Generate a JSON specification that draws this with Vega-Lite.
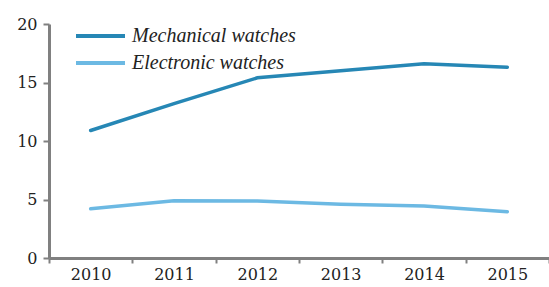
{
  "$schema": "https://vega.github.io/schema/vega-lite/v6.json",
  "width": 500,
  "height": 234,
  "autosize": "none",
  "padding": {"left": 49, "top": 24, "right": 0, "bottom": 29},
  "background": "white",
  "data": {
    "values": [
      {"year": "2010", "series": "Mechanical watches", "value": 10.9},
      {"year": "2011", "series": "Mechanical watches", "value": 13.2},
      {"year": "2012", "series": "Mechanical watches", "value": 15.4},
      {"year": "2013", "series": "Mechanical watches", "value": 16.0},
      {"year": "2014", "series": "Mechanical watches", "value": 16.6},
      {"year": "2015", "series": "Mechanical watches", "value": 16.3},
      {"year": "2010", "series": "Electronic watches", "value": 4.2},
      {"year": "2011", "series": "Electronic watches", "value": 4.9},
      {"year": "2012", "series": "Electronic watches", "value": 4.87},
      {"year": "2013", "series": "Electronic watches", "value": 4.6},
      {"year": "2014", "series": "Electronic watches", "value": 4.45},
      {"year": "2015", "series": "Electronic watches", "value": 3.96}
    ]
  },
  "config": {
    "view": {"stroke": null},
    "font": "DejaVu Serif"
  },
  "mark": {"type": "line", "strokeWidth": 3.5, "strokeCap": "round"},
  "encoding": {
    "x": {
      "field": "year",
      "type": "ordinal",
      "bandPosition": 0.5,
      "scale": {"type": "band", "paddingInner": 0, "paddingOuter": 0},
      "axis": {
        "title": null,
        "labelAngle": 0,
        "tickBand": "extent",
        "domainColor": "#808080",
        "domainWidth": 3,
        "tickColor": "#808080",
        "tickWidth": 2,
        "tickSize": 5,
        "labelFont": "DejaVu Serif",
        "labelFontSize": 16,
        "labelColor": "#222222",
        "labelPadding": 3,
        "grid": false
      }
    },
    "y": {
      "field": "value",
      "type": "quantitative",
      "scale": {"domain": [0, 20]},
      "axis": {
        "title": null,
        "values": [0, 5, 10, 15, 20],
        "domainColor": "#808080",
        "domainWidth": 3,
        "tickColor": "#808080",
        "tickWidth": 2,
        "tickSize": 6,
        "labelFont": "DejaVu Serif",
        "labelFontSize": 16,
        "labelColor": "#222222",
        "labelPadding": 6,
        "grid": false
      }
    },
    "color": {
      "field": "series",
      "type": "nominal",
      "scale": {
        "domain": ["Mechanical watches", "Electronic watches"],
        "range": ["#2687B5", "#6CB9E3"]
      },
      "legend": {
        "title": null,
        "orient": "none",
        "legendX": 25,
        "legendY": 2,
        "symbolType": "stroke",
        "symbolSize": 2401,
        "symbolStrokeWidth": 4,
        "labelFont": "Liberation Serif",
        "labelFontStyle": "italic",
        "labelFontSize": 20,
        "labelColor": "#222222",
        "labelOffset": 5,
        "labelLimit": 400,
        "clipHeight": 20,
        "rowPadding": 7
      }
    }
  }
}
